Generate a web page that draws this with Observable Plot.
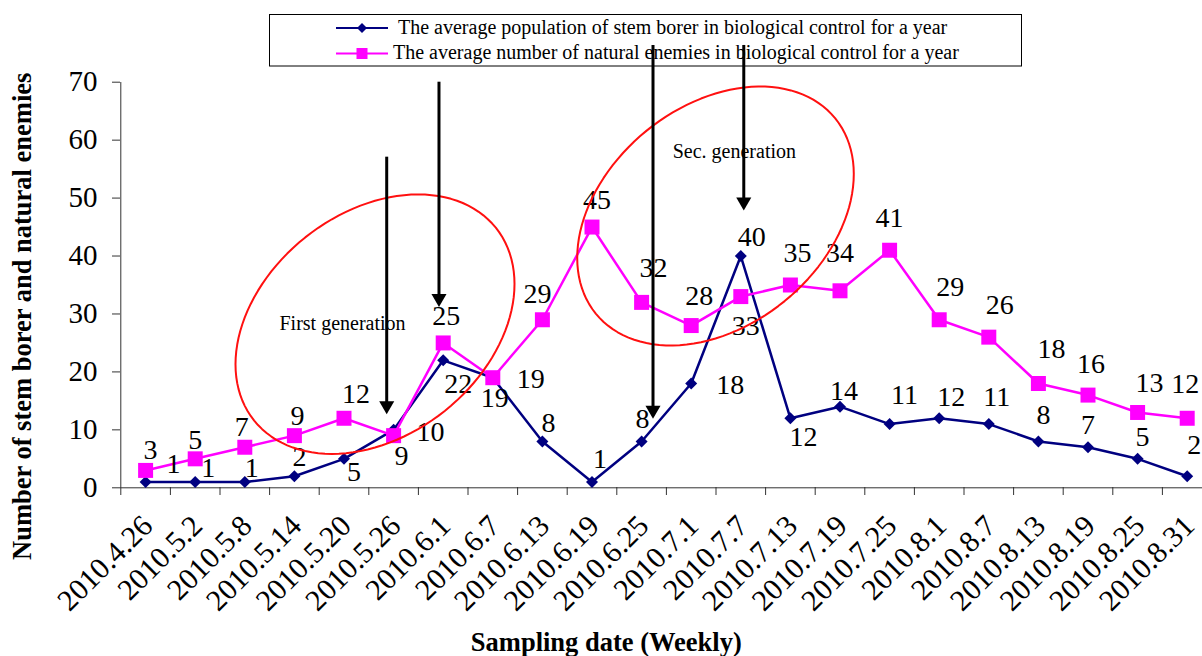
<!DOCTYPE html>
<html>
<head>
<meta charset="utf-8">
<script src="https://cdn.jsdelivr.net/npm/d3@7"></script>
<script src="https://cdn.jsdelivr.net/npm/@observablehq/plot@0.6"></script>
<style>
  html, body { margin: 0; padding: 0; background: #fff; overflow: hidden; }
  #wrap { position: relative; width: 1202px; height: 656px; }
  #legend { position: absolute; left: 0; top: 0; }
  #chart { position: absolute; left: 0; top: 0; }
</style>
</head>
<body>
<div id="wrap">
  <svg id="legend" width="1202" height="80"></svg>
  <div id="chart"></div>
</div>
<script>
// ---------------- data ----------------
const dates = ["2010.4.26","2010.5.2","2010.5.8","2010.5.14","2010.5.20","2010.5.26","2010.6.1","2010.6.7","2010.6.13","2010.6.19","2010.6.25","2010.7.1","2010.7.7","2010.7.13","2010.7.19","2010.7.25","2010.8.1","2010.8.7","2010.8.13","2010.8.19","2010.8.25","2010.8.31"];
const stemBorer = [1,1,1,2,5,10,22,19,8,1,8,18,40,12,14,11,12,11,8,7,5,2];
const naturalEnemies = [3,5,7,9,12,9,25,19,29,45,32,28,33,35,34,41,29,26,18,16,13,12];
const yTicks = [0,10,20,30,40,50,60,70];
const seriesNames = [
  "The average population of stem borer in biological control for a year",
  "The average number of natural enemies in biological control for a year"
];
const xTitle = "Sampling date (Weekly)";
const yTitle = "Number of stem borer and natural enemies";
const annotationTexts = ["First generation", "Sec. generation"];

// ---------------- layout (not data) ----------------
const FONT = '"Times New Roman", "Liberation Serif", serif';
const NAVY = "#000080", MAGENTA = "#FF00FF", AXIS = "#333";
// data-label offsets in px [dx, dy] from each point
const borerLabelOffsets = [[28,-18],[13,-14],[7,-14],[5,-19],[10,13],[37,2],[15,24],[2,20],[6,-18],[8,-23],[1,-22],[39,2],[11,-19],[13,19],[4,-16],[15,-29],[12,-21],[8,-27],[5,-26],[0,-22],[5,-22],[7,-31]];
const enemyLabelOffsets = [[5,-20],[0,-19],[-3,-20],[3,-20],[12,-24],[8,20],[3,-27],[38,1],[-5,-26],[5,-27],[12,-34],[8,-30],[5,29],[7,-32],[0,-38],[0,-32],[11,-33],[11,-32],[13,-34],[3,-31],[12,-29],[-2,-34]];
// annotation geometry in data units
const ellipses = [
  {cx: 4.625, cy: 28.24, w: 2.8125, a: 6.93, k: 21.29},
  {cx: 11.49, cy: 46.91, w: 2.788, a: 7.24, k: 21.14}
];
const arrows = [
  {x: 4.861, top: 57.06, tip: 12.7},
  {x: 5.915, top: 70.0, tip: 31.2},
  {x: 10.23, top: 76.34, tip: 11.9},
  {x: 12.06, top: 76.34, tip: 47.86}
];
const annotationPos = [{x: 3.97, y: 28.41}, {x: 11.87, y: 58.09}];

// ---------------- build ----------------
const idx = dates.map((d, i) => i);
const borerData = stemBorer.map((v, i) => ({i, v}));
const enemyData = naturalEnemies.map((v, i) => ({i, v}));
const boundaries = d3.range(-0.5, dates.length, 1);

const ellipsePts = [];
ellipses.forEach((e, j) => {
  for (let s = 0; s <= 120; s++) {
    const t = (s / 120) * 2 * Math.PI;
    ellipsePts.push({id: j, x: e.cx + e.w * Math.cos(t), y: e.cy + e.a * Math.cos(t) + e.k * Math.sin(t)});
  }
});

const labelMarks = [];
borerData.forEach((d, i) => {
  labelMarks.push(Plot.text([d], {x: "i", y: "v", text: d => String(d.v), dx: borerLabelOffsets[i][0], dy: borerLabelOffsets[i][1], fontSize: 28, fill: "#000"}));
});
enemyData.forEach((d, i) => {
  labelMarks.push(Plot.text([d], {x: "i", y: "v", text: d => String(d.v), dx: enemyLabelOffsets[i][0], dy: enemyLabelOffsets[i][1], fontSize: 28, fill: "#000"}));
});

const chart = Plot.plot({
  width: 1202,
  height: 656,
  marginLeft: 120,
  marginRight: 0,
  marginTop: 82,
  marginBottom: 169,
  x: {domain: [-0.5, dates.length - 0.5], range: [120.3, 1211.5]},
  y: {domain: [0, 70], range: [487.3, 81.7]},
  style: {fontFamily: FONT, fontSize: "29px", background: "transparent", color: "#000", overflow: "visible"},
  marks: [
    Plot.axisY({ticks: yTicks, tickSize: 8, tickPadding: 15, fontSize: 29, stroke: AXIS, label: null}),
    Plot.axisX({ticks: boundaries, tickSize: 8, tickFormat: () => "", stroke: AXIS, label: null}),
    Plot.ruleX([-0.5], {stroke: AXIS}),
    Plot.ruleY([0], {stroke: AXIS}),
    Plot.text(idx, {x: d => d, y: 0, text: d => dates[d], rotate: -45, textAnchor: "end", lineAnchor: "middle", dx: 2, dy: 33, fontSize: 30, fill: "#000"}),
    Plot.text([yTitle], {frameAnchor: "left", text: d => d, rotate: -90, textAnchor: "middle", lineAnchor: "middle", dx: -97.8, dy: 31.3, fontSize: 26.5, fontWeight: "bold", fill: "#000"}),
    Plot.text([xTitle], {frameAnchor: "bottom", text: d => d, textAnchor: "middle", lineAnchor: "middle", dx: -55.2, dy: 155.5, fontSize: 26.5, fontWeight: "bold", fill: "#000"}),
    Plot.line(borerData, {x: "i", y: "v", stroke: NAVY, strokeWidth: 2.5}),
    Plot.dot(borerData, {x: "i", y: "v", symbol: "diamond2", r: 5.4, fill: NAVY, stroke: "none"}),
    Plot.line(enemyData, {x: "i", y: "v", stroke: MAGENTA, strokeWidth: 2.5}),
    Plot.dot(enemyData, {x: "i", y: "v", symbol: "square", r: 8.46, fill: MAGENTA, stroke: "none"}),
    ...labelMarks,
    Plot.line(ellipsePts, {x: "x", y: "y", z: "id", stroke: "#FF1010", strokeWidth: 2}),
    Plot.ruleX(arrows, {x: "x", y1: "top", y2: d => d.tip + 1.2, stroke: "#000", strokeWidth: 3}),
    Plot.dot(arrows, {x: "x", y: "tip", symbol: "triangle", r: 5.6, rotate: 180, dy: -8.7, fill: "#000", stroke: "none"}),
    Plot.text(annotationPos, {x: "x", y: "y", text: (d, i) => annotationTexts[i], fontSize: 20, fill: "#000"})
  ]
});
document.getElementById("chart").appendChild(chart);

// ---------------- legend ----------------
const lg = d3.select("#legend");
lg.append("rect").attr("x", 269.5).attr("y", 14.5).attr("width", 752).attr("height", 51.5)
  .attr("fill", "#fff").attr("stroke", "#000").attr("stroke-width", 1);
const rows = [
  {name: seriesNames[0], color: NAVY, kind: "diamond", cy: 28, tx: 398, base: 33.5},
  {name: seriesNames[1], color: MAGENTA, kind: "square", cy: 53.5, tx: 393, base: 58.5}
];
rows.forEach(r => {
  lg.append("line").attr("x1", 336).attr("x2", 388).attr("y1", r.cy).attr("y2", r.cy)
    .attr("stroke", r.color).attr("stroke-width", 2.2);
  if (r.kind === "diamond") {
    lg.append("path").attr("d", `M362,${r.cy - 5}L367,${r.cy}L362,${r.cy + 5}L357,${r.cy}Z`).attr("fill", r.color);
  } else {
    lg.append("rect").attr("x", 356.5).attr("y", r.cy - 5.5).attr("width", 11).attr("height", 11).attr("fill", r.color);
  }
  lg.append("text").attr("x", r.tx).attr("y", r.base).attr("font-family", FONT).attr("font-size", 20)
    .attr("fill", "#000").text(r.name);
});
</script>
</body>
</html>
